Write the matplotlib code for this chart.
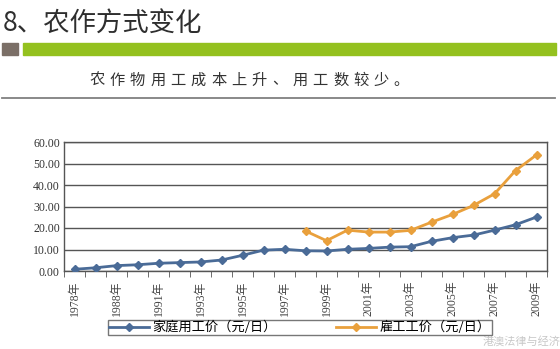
import matplotlib
matplotlib.use("Agg")
import matplotlib.pyplot as plt
from matplotlib.patches import Rectangle
from matplotlib.lines import Line2D
import numpy as np

plt.rcParams['font.family'] = ['Noto Sans CJK SC', 'DejaVu Sans']

# 数据
years = ['1978年', '1985年', '1988年', '1990年', '1991年', '1992年', '1993年', '1994年',
         '1995年', '1996年', '1997年', '1998年', '1999年', '2000年', '2001年', '2002年',
         '2003年', '2004年', '2005年', '2006年', '2007年', '2008年', '2009年']
family_wage = [0.8, 1.5, 2.5, 2.9, 3.6, 3.9, 4.2, 5.1, 7.3, 9.7, 10.1, 9.4, 9.3, 10.1,
               10.5, 11.1, 11.3, 13.8, 15.5, 16.7, 19.0, 21.5, 25.1]
hired_years = years[11:]
hired_wage = [18.6, 14.1, 19.0, 18.1, 18.1, 18.9, 22.7, 26.3, 30.5, 35.9, 46.7, 54.0]
yticks = [0, 10, 20, 30, 40, 50, 60]

blue = '#4a6b97'
orange = '#e9a03c'

fig = plt.figure(figsize=(5.6, 3.49), dpi=100)
W, H = 560.0, 349.0

# 标题
fig.text(3 / W, 1 - 24 / H, '8、农作方式变化', fontsize=19, fontweight='medium',
         color='#2e2e2e', va='center', ha='left')
fig.patches.append(Rectangle((2 / W, 1 - 55 / H), 16 / W, 12 / H,
                             transform=fig.transFigure, color='#7b6f67'))
fig.patches.append(Rectangle((23 / W, 1 - 55 / H), 533 / W, 12 / H,
                             transform=fig.transFigure, color='#94c11f'))

# 副标题 (字间距较大)
sub = '农作物用工成本上升、用工数较少。'
for i, ch in enumerate(sub):
    fig.text((97 + i * 20.3) / W, 1 - 80 / H, ch, fontsize=11, color='#333333',
             ha='center', va='center', fontweight='light')
fig.add_artist(Line2D([2 / W, 555 / W], [1 - 98 / H, 1 - 98 / H],
                      transform=fig.transFigure, color='#808080', lw=1.3))

# 图表
ax = fig.add_axes([64 / W, 1 - 271 / H, 483 / W, 129 / H])
x = np.arange(len(years))
x2 = np.arange(11, len(years))
ax.plot(x, family_wage, color=blue, marker='D', markersize=4.5, lw=2,
        label='家庭用工价（元/日）', zorder=3)
ax.plot(x2, hired_wage, color=orange, marker='D', markersize=4.5, lw=2,
        label='雇工工价（元/日）', zorder=3)

ax.set_xlim(-0.5, len(years) - 0.5)
ax.set_ylim(0, 60)
ax.set_yticks(yticks)
ax.set_yticklabels(['%.2f' % v for v in yticks], family=['Liberation Serif'],
                   fontsize=8.5, color='#333333')
ax.yaxis.grid(True, color='#555555', lw=1)
ax.set_axisbelow(True)
ax.tick_params(axis='y', length=0, pad=3)

ax.set_xticks(x)
ax.set_xticklabels([y if i % 2 == 0 else '' for i, y in enumerate(years)],
                   rotation=90, fontsize=8.5, color='#444444',
                   family=['Liberation Serif', 'Noto Sans CJK SC'])
ax.tick_params(axis='x', length=0, pad=7)
ax.set_xticks(np.arange(-0.5, len(years), 1), minor=True)
ax.tick_params(axis='x', which='minor', length=4, color='#555555', direction='out')

for s in ax.spines.values():
    s.set_color('#555555')
    s.set_linewidth(1)

leg = fig.legend(loc='center', bbox_to_anchor=(300 / W, 1 - 327.5 / H), ncol=2,
                 fontsize=9.5, frameon=True, fancybox=False, edgecolor='#555555',
                 columnspacing=4.5, handlelength=3, borderpad=0.1, handletextpad=0.3)
leg.get_frame().set_linewidth(1)

# 水印
fig.text(522 / W, 1 - 341 / H, '港澳法律与经济', fontsize=8, color='#c8c8c8',
         ha='center', va='center')

fig.savefig('out.png', dpi=100)
